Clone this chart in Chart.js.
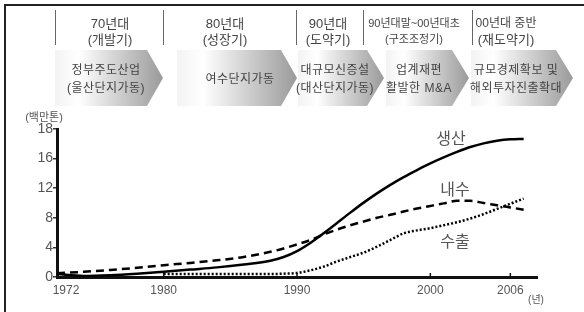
<!DOCTYPE html>
<html><head><meta charset="utf-8">
<script src="https://cdn.jsdelivr.net/npm/chart.js@4.4.1/dist/chart.umd.min.js"></script>
<style>
html,body{margin:0;padding:0;background:#fff;}
#wrap{position:relative;width:584px;height:312px;overflow:hidden;font-family:'Liberation Sans','Noto Sans CJK KR',sans-serif;}
#c{position:absolute;left:0;top:0;}
.t{position:absolute;white-space:nowrap;transform:translate(-50%,-50%);color:#444;line-height:1;}
.sep{position:absolute;top:10px;height:35px;width:0;border-left:1.5px solid #666;}
.arrow{position:absolute;top:50px;height:56px;}
.bl{position:absolute;left:4px;top:4px;width:2px;height:308px;background:#222;}
.bt{position:absolute;left:4px;top:4px;width:580px;height:2px;background:#222;}
</style></head>
<body><div id="wrap">
<canvas id="c" width="584" height="312"></canvas>
<div class="bl"></div><div class="bt"></div>
<div id="hdr"></div>
</div>
<script>
// ---- data ----
const years      = [1972,1974,1976,1978,1980,1982,1984,1986,1988,1989,1990,1991,1992,1993,1994,1995,1996,1997,1998,1999,2000,2001,2002,2003,2004,2005,2006,2007];
const production = [0.4,0.15,0.25,0.45,0.7,1.0,1.3,1.7,2.2,2.7,3.5,4.6,5.9,7.3,8.7,10.05,11.3,12.45,13.5,14.45,15.35,16.08,16.45,16.78,17.03,17.2,17.3,17.33];
const domestic   = [0.5,0.7,0.95,1.25,1.6,1.9,2.25,2.7,3.4,3.85,4.4,5.0,5.75,6.4,7.0,7.5,8.0,8.4,8.85,9.25,9.6,9.95,10.3,10.3,10.0,9.7,9.4,9.1];
const exports_   = [null,null,null,null,0.4,0.4,0.4,0.4,0.4,0.45,0.55,0.9,1.4,2.1,2.7,3.3,4.1,5.0,5.9,6.3,6.6,7.0,7.4,7.9,8.5,9.2,9.9,10.6];
const seriesNames = ['생산','내수','수출'];
const xTicks = [1972,1980,1990,2000,2006];
const yTickLabels = ['0','4','8','12','16','18'];
const unitLabel = '(백만톤)';
const yearUnit = '(년)';
const periods = [['70년대','(개발기)'],['80년대','(성장기)'],['90년대','(도약기)'],['90년대말~00년대초','(구조조정기)'],['00년대 중반','(재도약기)']];
const policies = [['정부주도산업','(울산단지가동)'],['여수단지가동'],['대규모신증설','(대산단지가동)'],['업계재편','활발한 M&A'],['규모경제확보 및','해외투자진출확대']];

// axis as drawn: 0..16 equally spaced by 4, then 16..18 uses one full step
function toAxis(v){ if(v===null) return null; return v<=16 ? v : 16 + (v-16)*2; }
function pts(arr){ return years.map((y,i)=>({x:y,y:toAxis(arr[i])})).filter(p=>p.y!==null); }

// ---- header (HTML) ----
const hdr = document.getElementById('hdr');
function add(html){ hdr.insertAdjacentHTML('beforeend', html); }
[55,163,296,363,472].forEach(x=>add(`<div class="sep" style="left:${x}px"></div>`));
const pCenters = [110,225,328,414,506];
const pSizes = [13,13,13,11,12];
periods.forEach((p,i)=>{
  add(`<div class="t" style="left:${pCenters[i]}px;top:23px;font-size:${pSizes[i]}px">${p[0]}</div>`);
  add(`<div class="t" style="left:${pCenters[i]}px;top:39px;font-size:${i===3?11:13}px">${p[1]}</div>`);
});
const arrows = [[55,147,163],[177,281,297],[298,367,384],[386,452,469],[471,556,573]];
arrows.forEach(a=>{
  const w=a[2]-a[0], b=a[1]-a[0];
  add(`<div class="arrow" style="left:${a[0]}px;width:${w}px;background:linear-gradient(to right,#f3f3f3 0%,#ffffff 22%,#9a9a9a 100%);clip-path:polygon(0 0,${b}px 0,100% 50%,${b}px 100%,0 100%)"></div>`);
});
const polC = [106,240,335,419,516];
policies.forEach((p,i)=>{
  if(p.length===1){ add(`<div class="t" style="left:${polC[i]}px;top:79px;font-size:12px;letter-spacing:0.5px">${p[0]}</div>`); }
  else {
    add(`<div class="t" style="left:${polC[i]}px;top:70px;font-size:12px;letter-spacing:0.5px">${p[0]}</div>`);
    add(`<div class="t" style="left:${polC[i]}px;top:88px;font-size:12px;letter-spacing:0.5px">${p[1]}</div>`);
  }
});
add(`<div class="t" style="left:44px;top:117px;font-size:11px;color:#555">${unitLabel}</div>`);
add(`<div class="t" style="left:536px;top:300px;font-size:10px;color:#555">${yearUnit}</div>`);
const labPos = [[451,139],[455,190],[455,242]];
seriesNames.forEach((n,i)=>add(`<div class="t" style="left:${labPos[i][0]}px;top:${labPos[i][1]}px;font-size:16px;color:#555">${n}</div>`));

// ---- chart ----
const innerTicks = {
  id:'innerTicks',
  afterDraw(chart){
    const xs = chart.scales.x, ctx = chart.ctx, b = chart.chartArea.bottom;
    ctx.save(); ctx.strokeStyle='#111'; ctx.lineWidth=1.5;
    xTicks.slice(1).forEach(v=>{ const px=xs.getPixelForValue(v); ctx.beginPath(); ctx.moveTo(px,b); ctx.lineTo(px,b-4); ctx.stroke(); });
    ctx.restore();
  }
};
new Chart(document.getElementById('c'), {
  type:'line',
  data:{ datasets:[
    {label:seriesNames[0], data:pts(production), borderColor:'#000', borderWidth:2.5, pointRadius:0, cubicInterpolationMode:'monotone'},
    {label:seriesNames[1], data:pts(domestic), borderColor:'#000', borderWidth:2.5, borderDash:[8,5], pointRadius:0, cubicInterpolationMode:'monotone'},
    {label:seriesNames[2], data:pts(exports_), borderColor:'#000', borderWidth:2.5, borderDash:[2,2], pointRadius:0, cubicInterpolationMode:'monotone'}
  ]},
  options:{
    responsive:false, animation:false, events:[],
    layout:{padding:{top:129,right:47,left:0,bottom:0}},
    plugins:{legend:{display:false},tooltip:{enabled:false}},
    scales:{
      x:{type:'linear', min:1972, max:2008,
        afterBuildTicks(s){ s.ticks = xTicks.map(v=>({value:v})); },
        afterFit(s){ s.height = 35; },
        grid:{display:false, drawTicks:false},
        border:{display:true,color:'#111',width:3},
        ticks:{padding:6, color:'#555', font:{family:"'Liberation Sans',sans-serif", size:12}, maxRotation:0, autoSkip:false,
          callback:(v)=> v===1972 ? '\u2003\u20021972' : String(v)}
      },
      y:{type:'linear', min:0, max:20,
        afterFit(s){ s.width = 57; },
        grid:{drawOnChartArea:false, drawTicks:true, tickLength:4, color:'#333', lineWidth:1.5},
        border:{display:true,color:'#111',width:3},
        ticks:{stepSize:4, padding:0, color:'#555', font:{family:"'Liberation Sans',sans-serif", size:14},
          callback:(v)=> yTickLabels[Math.round(v/4)]}
      }
    }
  },
  plugins:[innerTicks]
});
</script>
</body></html>
